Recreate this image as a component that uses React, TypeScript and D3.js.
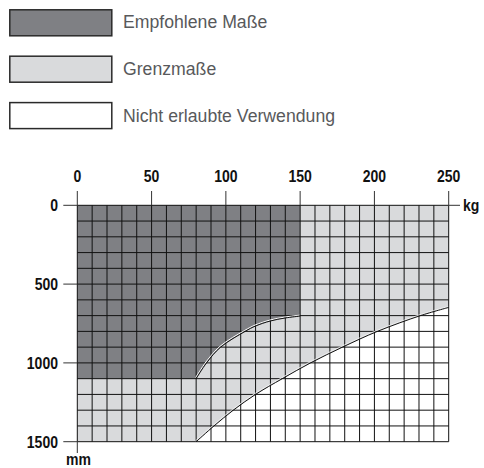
import React from "react";
import * as d3 from "d3";

const xTicks = [0, 50, 100, 150, 200, 250];
const yTicks = [0, 500, 1000, 1500];
const legendLabels = ["Empfohlene Maße", "Grenzmaße", "Nicht erlaubte Verwendung"];
const legendColors = ["#7f8084", "#d9dadc", "#ffffff"];
// recommended region boundary (kg, mm)
const upperCurve: [number, number][] = [
  [80, 1100], [87, 1000], [96.5, 900], [113, 800], [120, 766], [130, 734], [140, 715], [150, 703],
];
// limit region boundary (kg, mm)
const lowerCurve: [number, number][] = [
  [80, 1500], [92, 1400], [105, 1300], [120, 1200], [138, 1100], [157, 1000],
  [178.5, 900], [202, 800], [231, 700], [250, 648],
];
const xMax = 250;
const yMax = 1500;
const xStep = 10;
const yStep = 100;

const FONT = "'Liberation Sans', Arial, sans-serif";

function CText(props: { x: number; y: number; sx: number; anchor?: string; size: number; bold?: boolean; fill: string; children: React.ReactNode }) {
  return (
    <text
      transform={`translate(${props.x},${props.y}) scale(${props.sx},1)`}
      textAnchor={props.anchor || "start"}
      fontSize={props.size}
      fontWeight={props.bold ? "bold" : "normal"}
      fill={props.fill}
    >
      {props.children}
    </text>
  );
}

export default function App() {
  const x = d3.scaleLinear().domain([0, xMax]).range([77.3, 448.7]);
  const y = d3.scaleLinear().domain([0, yMax]).range([205.3, 441.7]);
  const line = d3.line<[number, number]>().x((d) => x(d[0])).y((d) => y(d[1])).curve(d3.curveCatmullRom.alpha(0.5));

  const lightD =
    `M${x(0)},${y(0)}L${x(xMax)},${y(0)}L${x(xMax)},${y(lowerCurve[lowerCurve.length - 1][1])}` +
    (line(lowerCurve.slice().reverse() as [number, number][]) || "").replace(/^M/, "L") +
    `L${x(0)},${y(yMax)}Z`;
  const darkD =
    `M${x(0)},${y(0)}L${x(150)},${y(0)}L${x(150)},${y(upperCurve[upperCurve.length - 1][1])}` +
    (line(upperCurve.slice().reverse() as [number, number][]) || "").replace(/^M/, "L") +
    `L${x(0)},${y(1100)}Z`;

  const vLines = d3.range(0, xMax + 1, xStep);
  const hLines = d3.range(0, yMax + 1, yStep);

  return (
    <svg width={484} height={468} style={{ position: "absolute", left: 0, top: 0 }} fontFamily={FONT}>
      <rect width={484} height={468} fill="#fff" />
      {legendLabels.map((lab, i) => (
        <g key={lab}>
          <rect x={9.8} y={9.8 + i * 46.4} width={102} height={26} fill={legendColors[i]} stroke="#2a2a2a" strokeWidth={1.5} />
          <CText x={123} y={28.4 + i * 46.9} sx={0.955} size={18.5} fill="#58595b">{lab}</CText>
        </g>
      ))}
      <rect x={x(0)} y={y(0)} width={x(xMax) - x(0)} height={y(yMax) - y(0)} fill="#fff" />
      <path d={lightD} fill="#d9dadc" />
      <path d={darkD} fill="#7f8084" />
      {vLines.map((v) => (
        <line key={"v" + v} x1={x(v)} x2={x(v)} y1={y(0)} y2={y(yMax)} stroke="#111" strokeWidth={1} />
      ))}
      {hLines.map((v) => (
        <line key={"h" + v} x1={x(0)} x2={x(xMax)} y1={y(v)} y2={y(v)} stroke="#111" strokeWidth={1} />
      ))}
      <path d={line(upperCurve) || ""} fill="none" stroke="#fff" strokeWidth={1} transform="translate(-0.6,-0.9)" />
      <path d={line(upperCurve) || ""} fill="none" stroke="#111" strokeWidth={1} />
      <path d={line(lowerCurve) || ""} fill="none" stroke="#f4f4f4" strokeWidth={0.8} transform="translate(-0.6,-0.9)" />
      <path d={line(lowerCurve) || ""} fill="none" stroke="#111" strokeWidth={1} />
      {xTicks.map((t) => (
        <g key={"xt" + t}>
          <line x1={x(t)} x2={x(t)} y1={191} y2={y(0)} stroke="#333" strokeWidth={1} />
          <CText x={x(t)} y={181.6} sx={0.86} anchor="middle" size={16.3} bold fill="#111">{t}</CText>
        </g>
      ))}
      {yTicks.map((t) => (
        <g key={"yt" + t}>
          <line x1={63.3} x2={x(0)} y1={y(t)} y2={y(t)} stroke="#333" strokeWidth={1} />
          <CText x={58} y={y(t) + 5.8} sx={0.86} anchor="end" size={16.3} bold fill="#111">{t}</CText>
        </g>
      ))}
      <line x1={x(xMax)} x2={460} y1={y(0)} y2={y(0)} stroke="#333" strokeWidth={1} />
      <CText x={463} y={y(0) + 5.8} sx={0.86} size={16.3} bold fill="#111">kg</CText>
      <line x1={x(0)} x2={x(0)} y1={y(yMax)} y2={453} stroke="#333" strokeWidth={1} />
      <CText x={66} y={465} sx={0.86} size={16.3} bold fill="#111">mm</CText>
    </svg>
  );
}
